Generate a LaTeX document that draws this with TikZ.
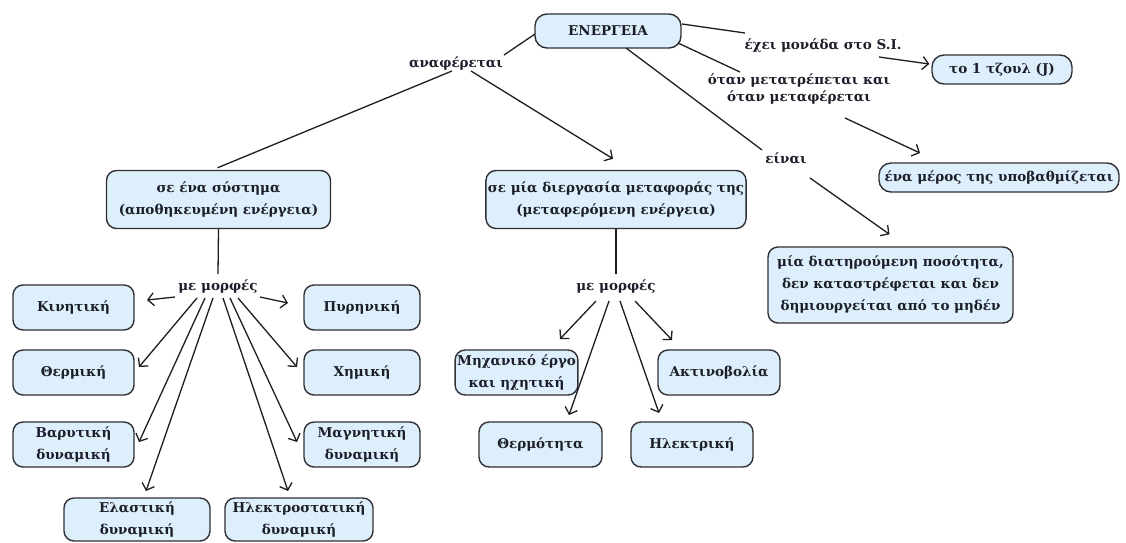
\documentclass[tikz,border=0pt]{standalone}
\usepackage{fontspec}
\setmainfont{DejaVu Serif}
\usetikzlibrary{arrows.meta,calc}
\definecolor{boxfill}{RGB}{221,239,251}
\definecolor{boxdraw}{RGB}{48,48,54}
\definecolor{txt}{RGB}{28,30,42}
\definecolor{lncol}{RGB}{30,30,34}
\begin{document}
\begin{tikzpicture}[x=1pt,y=-1pt,
  box/.style={draw=boxdraw, fill=boxfill, line width=1.4pt, rounded corners=10pt,
    font=\bfseries\fontsize{13.5}{22}\selectfont, text=txt, align=center, inner sep=2pt},
  lbl/.style={font=\bfseries\fontsize{13.5}{17.5}\selectfont, text=txt, align=center, inner sep=1pt},
  ln/.style={line width=1.3pt, draw=lncol},
  arr/.style={ln, -{Straight Barb[length=6pt,width=13pt,line width=1.3pt]}}]
\useasboundingbox (0,0) rectangle (1126,542);
\fill[white] (0,0) rectangle (1126,542);

% top level
\node[box, minimum width=146pt, minimum height=34pt, rounded corners=12pt] (en) at (608,31) {ΕΝΕΡΓΕΙΑ};
\node[lbl] (ana) at (456,63) {αναφέρεται};
\node[lbl] (echei) at (823,46) {έχει μονάδα στο S.I.};
\node[box, minimum width=140pt, minimum height=29pt, rounded corners=12pt] (tz) at (1002,69.5) {το 1 τζουλ (J)};
\node[lbl] (otan) at (799,89) {όταν μετατρέπεται και\\όταν μεταφέρεται};
\node[box, minimum width=240pt, minimum height=29pt, rounded corners=12pt] (meros) at (999,177.5) {ένα μέρος της υποβαθμίζεται};
\node[lbl] (einai) at (786,158) {είναι};
\node[box, minimum width=245pt, minimum height=76pt] (diat) at (890.5,285) {μία διατηρούμενη ποσότητα,\\δεν καταστρέφεται και δεν\\δημιουργείται από το μηδέν};

\node[box, minimum width=224pt, minimum height=58pt] (sys) at (218.5,199.5) {σε ένα σύστημα\\(αποθηκευμένη ενέργεια)};
\node[box, minimum width=246pt, minimum height=58pt] (proc) at (616,199.5) {σε μία διεργασία μεταφοράς της\\(μεταφερόμενη ενέργεια)};

\node[lbl] (m1) at (218,286) {με μορφές};
\node[lbl] (m2) at (616,286) {με μορφές};

% left forms
\node[box, minimum width=121pt, minimum height=45pt] (kin) at (73.5,307.5) {Κινητική};
\node[box, minimum width=121pt, minimum height=45pt] (ther) at (73.5,372.5) {Θερμική};
\node[box, minimum width=121pt, minimum height=45pt] (bar) at (73.5,444.5) {Βαρυτική\\δυναμική};
\node[box, minimum width=116pt, minimum height=45pt] (pyr) at (362,307.5) {Πυρηνική};
\node[box, minimum width=116pt, minimum height=45pt] (chem) at (362,372.5) {Χημική};
\node[box, minimum width=116pt, minimum height=45pt] (mag) at (362,444.5) {Μαγνητική\\δυναμική};
\node[box, minimum width=146pt, minimum height=43pt] (ela) at (137,519.5) {Ελαστική\\δυναμική};
\node[box, minimum width=148pt, minimum height=43pt] (hle) at (299,519.5) {Ηλεκτροστατική\\δυναμική};

% right forms
\node[box, minimum width=111pt, minimum height=45pt] (mech) at (516.5,372.5) {Μηχανικό έργο\\και ηχητική};
\node[box, minimum width=122pt, minimum height=45pt] (akt) at (719,372.5) {Ακτινοβολία};
\node[box, minimum width=123pt, minimum height=45pt] (therm) at (540.5,444.5) {Θερμότητα};
\node[box, minimum width=122pt, minimum height=45pt] (hlek) at (692,444.5) {Ηλεκτρική};

% top connectors
\draw[ln] ($(en)+(-73,3)$) -- ($(ana)+(48,-8)$);
\draw[ln] ($(ana)+(-4,8)$) -- ($(sys.north)+(-1,-2)$);
\draw[arr] ($(ana)+(15,8)$) -- ($(proc.north)+(-3,-11)$);
\draw[ln] ($(en)+(74,-7)$) -- ($(echei)+(-78,-13)$);
\draw[arr] ($(echei)+(56,11)$) -- ($(tz.west)+(-2,-5.5)$);
\draw[ln] ($(en)+(70,12)$) -- ($(otan)+(-59,-17)$);
\draw[arr] ($(otan)+(46,29)$) -- ($(meros)+(-79,-24.5)$);
\draw[ln] ($(en)+(18,17)$) -- ($(einai)+(-24,-8)$);
\draw[arr] ($(einai)+(24,20)$) -- ($(diat.north)+(-1,-12)$);
\draw[ln] (sys.south) -- ($(m1.north)+(0,-4)$);
\draw[ln] (proc.south) -- ($(m2.north)+(0,-4)$);

% left fan
\draw[arr] ($(m1)+(-43,11)$) -- ($(kin)+(73.5,-7.5)$);
\draw[arr] ($(m1)+(42,11)$) -- ($(pyr)+(-74,-4.5)$);
\draw[arr] ($(m1)+(-21,12)$) -- ($(ther)+(65.5,-5.5)$);
\draw[arr] ($(m1)+(20,12)$) -- ($(chem)+(-65,-5.5)$);
\draw[arr] ($(m1)+(-13,12)$) -- ($(bar)+(65.5,-2.5)$);
\draw[arr] ($(m1)+(12,12)$) -- ($(mag)+(-65,-2.5)$);
\draw[arr] ($(m1)+(-5,12)$) -- ($(ela)+(9,-28.5)$);
\draw[arr] ($(m1)+(5,12)$) -- ($(hle)+(-11,-28.5)$);

% right fan
\draw[arr] ($(m2)+(-20,15)$) -- ($(mech)+(43.5,-33.5)$);
\draw[arr] ($(m2)+(-7,15)$) -- ($(therm)+(28.5,-29.5)$);
\draw[arr] ($(m2)+(4,15)$) -- ($(hlek)+(-33,-31.5)$);
\draw[arr] ($(m2)+(19,15)$) -- ($(akt)+(-47,-32.5)$);
\end{tikzpicture}
\end{document}
